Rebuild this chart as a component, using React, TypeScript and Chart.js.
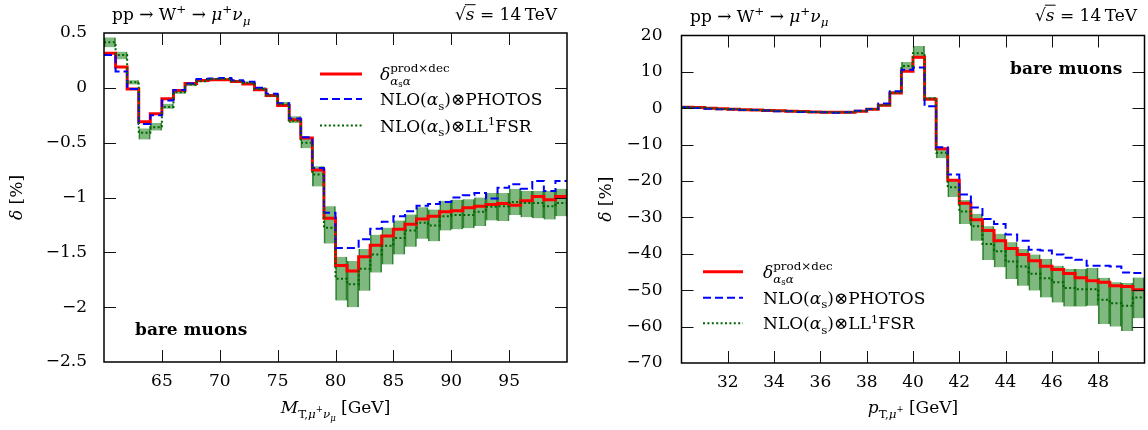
import React, { useEffect, useRef } from 'react';
import { Chart, registerables } from 'chart.js';
Chart.register(...registerables);

const FONT = '"DejaVu Serif", serif';

// ---------- Left panel: M_T (GeV), bins of 1 GeV (lower edges) ----------
const mtEdges = [60, 61, 62, 63, 64, 65, 66, 67, 68, 69, 70, 71, 72, 73, 74, 75, 76, 77, 78, 79,
  80, 81, 82, 83, 84, 85, 86, 87, 88, 89, 90, 91, 92, 93, 94, 95, 96, 97, 98, 99];
const mtUpper = 100;
const mtRed = [0.315, 0.19, -0.01, -0.31, -0.236, -0.10, -0.025, 0.04, 0.066, 0.073, 0.073, 0.057, 0.036, -0.018, -0.07, -0.16, -0.29, -0.457, -0.75, -1.19,
  -1.62, -1.67, -1.54, -1.436, -1.35, -1.29, -1.245, -1.195, -1.17, -1.13, -1.12, -1.094, -1.08, -1.064, -1.055, -1.07, -1.03, -0.99, -1.02, -0.99];
const mtBlue = [0.30, 0.15, -0.01, -0.33, -0.25, -0.115, -0.02, 0.04, 0.08, 0.085, 0.09, 0.07, 0.055, 0.0, -0.055, -0.14, -0.28, -0.45, -0.73, -1.14,
  -1.46, -1.46, -1.38, -1.285, -1.22, -1.17, -1.125, -1.075, -1.06, -1.04, -1.0, -0.98, -0.96, -1.01, -0.91, -0.88, -0.92, -0.85, -0.94, -0.85];
const mtGreen = [0.415, 0.30, 0.05, -0.41, -0.36, -0.175, -0.04, 0.03, 0.06, 0.08, 0.08, 0.06, 0.045, -0.01, -0.07, -0.15, -0.30, -0.50, -0.79, -1.275,
  -1.74, -1.79, -1.65, -1.52, -1.44, -1.37, -1.30, -1.23, -1.255, -1.17, -1.16, -1.16, -1.13, -1.085, -1.08, -1.04, -1.05, -1.05, -1.08, -1.05];
const mtBandLo = [0.37, 0.26, 0.03, -0.47, -0.39, -0.19, -0.055, 0.015, 0.05, 0.07, 0.07, 0.05, 0.03, -0.025, -0.085, -0.17, -0.32, -0.55, -0.90, -1.42,
  -1.94, -2.0, -1.85, -1.685, -1.61, -1.52, -1.45, -1.375, -1.40, -1.30, -1.29, -1.28, -1.26, -1.21, -1.215, -1.16, -1.18, -1.19, -1.2, -1.17];
const mtBandHi = [0.46, 0.33, 0.07, -0.37, -0.32, -0.145, -0.025, 0.045, 0.075, 0.09, 0.09, 0.07, 0.06, 0.005, -0.055, -0.13, -0.26, -0.45, -0.715, -1.08,
  -1.54, -1.58, -1.47, -1.34, -1.275, -1.21, -1.155, -1.09, -1.11, -1.03, -1.02, -1.015, -1.0, -0.96, -0.96, -0.92, -0.94, -0.94, -0.94, -0.92];
const mtXTicks = [65, 70, 75, 80, 85, 90, 95];
const mtYTicks = [-2.5, -2, -1.5, -1, -0.5, 0, 0.5];

// ---------- Right panel: pT (GeV), bins of 0.5 GeV (lower edges) ----------
const ptEdges = [30, 30.5, 31, 31.5, 32, 32.5, 33, 33.5, 34, 34.5, 35, 35.5, 36, 36.5, 37, 37.5, 38, 38.5, 39, 39.5,
  40, 40.5, 41, 41.5, 42, 42.5, 43, 43.5, 44, 44.5, 45, 45.5, 46, 46.5, 47, 47.5, 48, 48.5, 49, 49.5];
const ptUpper = 50;
const ptRed = [0.3, 0.2, 0.0, -0.1, -0.3, -0.4, -0.5, -0.6, -0.7, -0.8, -0.9, -1.0, -1.1, -1.1, -1.1, -0.8, -0.3, 0.8, 4.2, 10.2,
  14.0, 2.5, -11.1, -19.8, -26.1, -30.6, -33.6, -36.4, -38.5, -40.2, -41.9, -43.4, -44.3, -45.4, -46.6, -47.4, -47.8, -48.8, -49.0, -49.9];
const ptBlue = [0.3, 0.1, -0.1, -0.3, -0.3, -0.5, -0.5, -0.6, -0.8, -0.8, -1.0, -1.0, -1.1, -1.2, -1.1, -0.7, -0.2, 1.3, 4.7, 10.6,
  11.2, 0.55, -10.7, -18.2, -23.7, -27.3, -30.4, -31.8, -34.7, -36.4, -38.9, -39.1, -40.2, -41.1, -41.6, -43.3, -43.3, -43.5, -45.1, -45.3];
const ptGreen = [0.3, 0.2, 0.0, -0.2, -0.3, -0.4, -0.5, -0.6, -0.7, -0.8, -0.9, -1.0, -1.1, -1.1, -1.1, -0.8, -0.3, 0.8, 4.3, 11.6,
  15.1, 2.7, -12.2, -21.7, -28.4, -32.4, -37.3, -39.3, -42.1, -43.5, -45.5, -46.7, -47.8, -49.4, -49.7, -49.7, -52.6, -53.6, -54.3, -52.0];
const ptBandLo = [0.05, -0.05, -0.25, -0.45, -0.55, -0.65, -0.75, -0.85, -0.95, -1.05, -1.15, -1.25, -1.35, -1.35, -1.35, -1.05, -0.55, 0.5, 3.9, 10.6,
  13.7, 2.3, -13.7, -24.4, -31.8, -36.4, -41.7, -43.7, -46.9, -48.8, -50.1, -52.0, -53.4, -54.5, -54.5, -54.3, -59.3, -60.0, -61.2, -57.7];
const ptBandHi = [0.55, 0.45, 0.25, 0.05, -0.05, -0.15, -0.25, -0.35, -0.45, -0.55, -0.65, -0.75, -0.85, -0.85, -0.85, -0.55, -0.05, 1.1, 4.7, 12.75,
  17.1, 3.1, -11.1, -19.6, -25.2, -29.0, -32.4, -34.5, -36.8, -38.7, -40.2, -41.4, -43.3, -44.2, -44.2, -43.9, -46.6, -47.8, -48.0, -46.5];
const ptXTicks = [32, 34, 36, 38, 40, 42, 44, 46, 48];
const ptYTicks = [-70, -60, -50, -40, -30, -20, -10, 0, 10, 20];

// ---------- rich text ----------
type P = { t?: string; s?: number; dy?: number; it?: boolean; b?: boolean; over?: boolean; sup?: P[]; sub?: P[] };

function run(ctx: CanvasRenderingContext2D, parts: P[], x: number, y: number, size: number, draw: boolean): number {
  let cx = x;
  for (const p of parts) {
    if (p.sup || p.sub) {
      const w1 = p.sup ? run(ctx, p.sup, cx, y, size, draw) : 0;
      const w2 = p.sub ? run(ctx, p.sub, cx, y, size, draw) : 0;
      cx += Math.max(w1, w2);
      continue;
    }
    const fs = size * (p.s ?? 1);
    ctx.font = `${p.it ? 'italic ' : ''}${p.b ? 'bold ' : ''}${fs}px ${FONT}`;
    const w = ctx.measureText(p.t || '').width;
    if (draw) {
      ctx.fillText(p.t || '', cx, y + (p.dy ?? 0) * size);
      if (p.over) ctx.fillRect(cx - 1, y - fs * 0.93, w + 2, 1);
    }
    cx += w;
  }
  return cx - x;
}
function drawText(ctx: CanvasRenderingContext2D, parts: P[], x: number, y: number, size: number, align: string) {
  const w = run(ctx, parts, 0, 0, size, false);
  const x0 = align === 'right' ? x - w : align === 'center' ? x - w / 2 : x;
  run(ctx, parts, x0, y, size, true);
}

const SUP = -0.4, SUB = 0.27;
const titleParts: P[] = [{ t: 'pp → W' }, { t: '+', s: 0.7, dy: SUP }, { t: ' → ' }, { t: 'μ', it: true }, { t: '+', s: 0.7, dy: SUP },
  { t: 'ν', it: true }, { t: 'μ', it: true, s: 0.7, dy: SUB }];
const sqrtParts: P[] = [{ t: '√' }, { t: 's', it: true, over: true }, { t: ' = 14\u2009TeV' }];
const yTitleParts: P[] = [{ t: 'δ', it: true }, { t: ' [%]' }];
const mtTitleParts: P[] = [{ t: 'M', it: true }, { t: 'T,', s: 0.7, dy: SUB }, { t: 'μ', it: true, s: 0.7, dy: SUB }, { t: '+', s: 0.5, dy: -0.05 },
  { t: 'ν', it: true, s: 0.7, dy: SUB }, { t: 'μ', it: true, s: 0.5, dy: 0.45 }, { t: ' [GeV]' }];
const ptTitleParts: P[] = [{ t: 'p', it: true }, { t: 'T,', s: 0.7, dy: SUB }, { t: 'μ', it: true, s: 0.7, dy: SUB }, { t: '+', s: 0.5, dy: -0.05 }, { t: ' [GeV]' }];
const bareParts: P[] = [{ t: 'bare muons', b: true }];
const leg1: P[] = [{ t: 'δ', it: true }, {
  sup: [{ t: 'prod×dec', s: 0.7, dy: -0.45 }],
  sub: [{ t: 'α', it: true, s: 0.7, dy: 0.3 }, { t: 's', s: 0.5, dy: 0.42 }, { t: 'α', it: true, s: 0.7, dy: 0.3 }],
}];
const leg2: P[] = [{ t: 'NLO(' }, { t: 'α', it: true }, { t: 's', s: 0.7, dy: SUB }, { t: ')⊗PHOTOS' }];
const leg3: P[] = [{ t: 'NLO(' }, { t: 'α', it: true }, { t: 's', s: 0.7, dy: SUB }, { t: ')⊗LL' }, { t: '1', s: 0.7, dy: SUP }, { t: 'FSR' }];

const fmt = (v: number) => (v < 0 ? '−' : '') + String(Math.abs(v));

const RED = '#ff0000', BLUE = '#0000ff', GREEN = '#006400';
const styles = [
  { color: GREEN, width: 2, dash: [2, 2.4] },
  { color: BLUE, width: 2, dash: [8, 4] },
  { color: RED, width: 3, dash: [] as number[] },
];

function steps(edges: number[], upper: number, vals: number[]) {
  const pts = edges.map((e, i) => ({ x: e, y: vals[i] }));
  pts.push({ x: upper, y: vals[vals.length - 1] });
  return pts;
}
function band(edges: number[], upper: number, lo: number[], hi: number[]) {
  return edges.map((e, i) => ({ x: (e + (i + 1 < edges.length ? edges[i + 1] : upper)) / 2, y: [lo[i], hi[i]] }));
}

type Cfg = {
  edges: number[]; upper: number; red: number[]; blue: number[]; green: number[]; lo: number[]; hi: number[];
  xTicks: number[]; yTicks: number[]; yMin: number; yMax: number;
  yW: number; xH: number; padTop: number; padRight: number; yPad: number;
  title: [number, number]; sqrt: [number, number]; yTitle: [number, number]; xTitle: P[]; xTitleY: number;
  bare: [number, number]; leg: { x0: number; x1: number; tx: number; ys: number[] };
};

const TEXT = 17;
const TICK = 17;

function makeChart(canvas: HTMLCanvasElement, c: Cfg) {
  const deco = {
    id: 'deco',
    afterDraw(chart: any) {
      const ctx: CanvasRenderingContext2D = chart.ctx;
      const a = chart.chartArea;
      const xs = chart.scales.x, ys = chart.scales.y;
      ctx.save();
      ctx.strokeStyle = '#111';
      ctx.lineWidth = 1;
      const TL = 12;
      ctx.beginPath();
      for (const v of c.xTicks) {
        const px = Math.round(xs.getPixelForValue(v)) + 0.5;
        ctx.moveTo(px, a.bottom); ctx.lineTo(px, a.bottom - TL);
        ctx.moveTo(px, a.top); ctx.lineTo(px, a.top + TL);
      }
      for (const v of c.yTicks) {
        if (v === c.yMin || v === c.yMax) continue;
        const py = Math.round(ys.getPixelForValue(v)) + 0.5;
        ctx.moveTo(a.left, py); ctx.lineTo(a.left + TL, py);
        ctx.moveTo(a.right, py); ctx.lineTo(a.right - TL, py);
      }
      ctx.stroke();
      ctx.strokeStyle = '#000';
      ctx.lineWidth = 1.5;
      ctx.strokeRect(a.left, a.top, a.right - a.left, a.bottom - a.top);

      ctx.fillStyle = '#000';
      ctx.textBaseline = 'alphabetic';
      const S = TEXT;
      drawText(ctx, titleParts, c.title[0], c.title[1], S, 'left');
      drawText(ctx, sqrtParts, c.sqrt[0], c.sqrt[1], S, 'right');
      drawText(ctx, c.xTitle, (a.left + a.right) / 2, c.xTitleY, S, 'center');
      drawText(ctx, bareParts, c.bare[0], c.bare[1], S, 'left');
      ctx.save();
      ctx.translate(c.yTitle[0], (a.top + a.bottom) / 2);
      ctx.rotate(-Math.PI / 2);
      drawText(ctx, yTitleParts, 0, 0, S, 'center');
      ctx.restore();

      // legend
      const legTexts = [leg1, leg2, leg3];
      const legStyles = [styles[2], styles[1], styles[0]];
      c.leg.ys.forEach((y, i) => {
        const st = legStyles[i];
        ctx.save();
        ctx.strokeStyle = st.color;
        ctx.lineWidth = st.width;
        ctx.setLineDash(st.dash);
        ctx.beginPath();
        ctx.moveTo(c.leg.x0, y); ctx.lineTo(c.leg.x1, y);
        ctx.stroke();
        ctx.restore();
        drawText(ctx, legTexts[i], c.leg.tx, y + 6, S, 'left');
      });
      ctx.restore();
    },
  };

  const lineDs = (label: string, vals: number[], st: any, order: number) => ({
    type: 'line' as const, label, data: steps(c.edges, c.upper, vals), borderColor: st.color, borderWidth: st.width,
    borderDash: st.dash, stepped: true, pointRadius: 0, fill: false, order, borderCapStyle: 'butt' as const,
  });

  return new Chart(canvas, {
    type: 'line',
    data: {
      datasets: [
        lineDs('NLO(αs)⊗LL1FSR', c.green, styles[0], 0),
        lineDs('NLO(αs)⊗PHOTOS', c.blue, styles[1], 1),
        lineDs('δ prod×dec', c.red, styles[2], 2),
        {
          type: 'bar', label: 'band', data: band(c.edges, c.upper, c.lo, c.hi) as any,
          backgroundColor: 'rgba(0,115,0,0.5)', borderColor: 'rgba(0,95,0,0.75)',
          borderWidth: { left: 1, right: 1, top: 0, bottom: 0 }, borderSkipped: false,
          barPercentage: 1, categoryPercentage: 1, order: 3,
        } as any,
      ],
    },
    options: {
      responsive: false,
      animation: false,
      events: [],
      layout: { padding: { top: c.padTop, right: c.padRight, left: 0, bottom: 0 } },
      plugins: { legend: { display: false }, tooltip: { enabled: false } },
      scales: {
        x: {
          type: 'linear', min: c.edges[0], max: c.upper, offset: false,
          grid: { display: false, drawTicks: false }, border: { display: false },
          ticks: { font: { family: FONT, size: TICK }, color: '#000', padding: 9, autoSkip: false, maxRotation: 0, callback: (v: any) => fmt(Number(v)) },
          afterBuildTicks: (s: any) => { s.ticks = c.xTicks.map((v) => ({ value: v })); },
          afterFit: (s: any) => { s.height = c.xH; },
        },
        y: {
          type: 'linear', min: c.yMin, max: c.yMax,
          grid: { display: false, drawTicks: false }, border: { display: false },
          ticks: { font: { family: FONT, size: TICK }, color: '#000', padding: c.yPad, autoSkip: false, callback: (v: any) => fmt(Number(v)) },
          afterBuildTicks: (s: any) => { s.ticks = c.yTicks.map((v) => ({ value: v })); },
          afterFit: (s: any) => { s.width = c.yW; },
        },
      },
    },
    plugins: [deco],
  } as any);
}

const leftCfg: Cfg = {
  edges: mtEdges, upper: mtUpper, red: mtRed, blue: mtBlue, green: mtGreen, lo: mtBandLo, hi: mtBandHi,
  xTicks: mtXTicks, yTicks: mtYTicks, yMin: -2.5, yMax: 0.5,
  yW: 104, xH: 68, padTop: 33, padRight: 7, yPad: 17,
  title: [112, 20], sqrt: [557, 20], yTitle: [22, 0], xTitle: mtTitleParts, xTitleY: 413,
  bare: [135, 335], leg: { x0: 320, x1: 362, tx: 380, ys: [74, 99, 125.5] },
};
const rightCfg: Cfg = {
  edges: ptEdges, upper: ptUpper, red: ptRed, blue: ptBlue, green: ptGreen, lo: ptBandLo, hi: ptBandHi,
  xTicks: ptXTicks, yTicks: ptYTicks, yMin: -70, yMax: 20,
  yW: 107.5, xH: 67, padTop: 35.5, padRight: 3.5, yPad: 19,
  title: [116, 21.5], sqrt: [563, 20.5], yTitle: [37, 0], xTitle: ptTitleParts, xTitleY: 413,
  bare: [436, 74], leg: { x0: 129, x1: 169, tx: 189, ys: [271.7, 297.7, 323.3] },
};

export default function App() {
  const leftRef = useRef<HTMLCanvasElement>(null);
  const rightRef = useRef<HTMLCanvasElement>(null);
  useEffect(() => {
    const c1 = makeChart(leftRef.current!, leftCfg);
    const c2 = makeChart(rightRef.current!, rightCfg);
    return () => { c1.destroy(); c2.destroy(); };
  }, []);
  return (
    <div style={{ position: 'fixed', left: 0, top: 0, width: 1148, height: 430, background: '#fff' }}>
      <canvas ref={leftRef} width={574} height={430} style={{ position: 'absolute', left: 0, top: 0, width: 574, height: 430 }} />
      <canvas ref={rightRef} width={574} height={430} style={{ position: 'absolute', left: 574, top: 0, width: 574, height: 430 }} />
    </div>
  );
}
